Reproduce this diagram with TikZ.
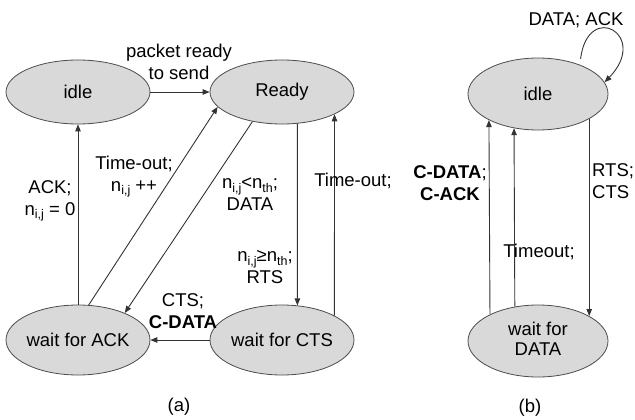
\documentclass[tikz,border=0pt]{standalone}
\usepackage{fontspec}
\setmainfont{Liberation Sans}
\usetikzlibrary{arrows.meta,shapes.geometric}
\newcommand\sbs[1]{\raisebox{-0.35ex}{\fontsize{12.5}{14}\selectfont #1}}
\begin{document}
\begin{tikzpicture}[x=1pt,y=-1pt,
  state/.style={ellipse, draw=black!70, fill=black!15, line width=0.8pt,
    minimum width=144pt, minimum height=64pt, inner sep=0pt,
    font=\fontsize{18.5}{21.5}\selectfont},
  edge/.style={draw=black!80, line width=0.9pt, -{Triangle[length=7pt,width=5.5pt]}},
  lbl/.style={align=center, inner sep=0pt, font=\fontsize{18.5}{21.5}\selectfont},
]
\useasboundingbox (0,0) rectangle (635,420);
% (a)
\node[state] (idle) at (78,92) {\makebox[0pt]{idle}};
\node[state] (ready) at (282,92) {\makebox[0pt]{Ready}};
\node[state, minimum height=70pt] (ack) at (78,340) {\makebox[0pt]{wait for ACK}};
\node[state, minimum height=70pt] (cts) at (282,340) {\makebox[0pt]{wait for CTS}};
% (b)
\node[state, minimum width=140pt, minimum height=72pt] (bidle) at (538,94) {\makebox[0pt]{idle}};
\node[state, minimum width=140pt, minimum height=72pt] (bdata) at (538,341)
  {\makebox[0pt]{\begin{tabular}{@{}c@{}}wait for\\[-1pt]DATA\end{tabular}}};

% edges (a)
\draw[edge] (idle.east) -- (ready.west);
\draw[edge] (ack.north) -- (idle.south);
\draw[edge] (ack.73.9) -- (ready.193.6);
\draw[edge] (ready.225.3) -- (ack.30.3);
\draw[edge] (ready.-64.4) -- (cts.66.3);
\draw[edge] (cts.25.8) -- (ready.-23.9);
\draw[edge] (cts.west) -- (ack.east);
% edges (b)
\draw[edge] (bdata.151.4) -- (bidle.208.6);
\draw[edge] (bdata.124.1) -- (bidle.235.9);
\draw[edge] (bidle.-26.7) -- (bdata.26.7);
\draw[edge, shorten <=6pt] (bidle.35) .. controls (588,0) and (650,35) .. (bidle.10);

% labels (a)
\node[lbl] (l1) at (179,62) {packet ready\\to send};
\node[lbl] (l2) at (50,201) {ACK;\\n\sbs{i,j} = 0};
\node[lbl] (l3) at (134,177) {Time-out;\\n\sbs{i,j} ++};
\node[lbl] (l4) at (250,194) {n\sbs{i,j}<n\sbs{th};\\DATA};
\node[lbl] (l5) at (353,181) {Time-out;};
\node[lbl] (l6) at (265,267) {n\sbs{i,j}≥n\sbs{th};\\RTS};
\node[lbl] (l7) at (183,311) {CTS;\\\textbf{C-DATA}};
\node[lbl] (ca) at (179,407) {(a)};
% labels (b)
\node[lbl] (l8) at (576,20) {DATA; ACK};
\node[lbl] (l9) at (450,183) {\textbf{C-DATA};\\\textbf{C-ACK}};
\node[lbl, align=left, anchor=west] (l10) at (592,181) {RTS;\\CTS};
\node[lbl] (l11) at (539,252) {Timeout;};
\node[lbl] (cb) at (530,408) {(b)};
\end{tikzpicture}
\end{document}
